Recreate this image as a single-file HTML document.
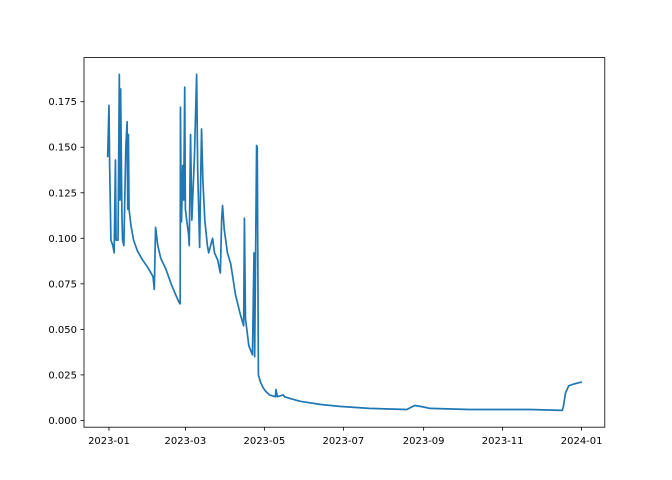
<!DOCTYPE html>
<html><head><meta charset="utf-8"><style>
body{margin:0;background:#fff}
svg{display:block;font-family:"DejaVu Sans","Liberation Sans",sans-serif}
</style></head><body>
<svg id="chart" width="672" height="480"></svg>
<script>
const days=[-1,0,0.5,1.5,3,4,5,5.5,7,8,8.5,9,10,10.5,11.5,13,14,14.5,15,15.5,17,19,22,26,30,34,35,36,37.7,40,44,48,51.5,54,55,55.2,55.5,56,57,57.7,58.5,59,60,61.5,62,63,64,66,67.7,68.5,70,71,71.5,72.5,74,76,77,78.5,80,81.5,84,86,87,87.7,89,91.5,94,97.7,101.5,104,104.6,105.4,108,110.8,112,112.5,114,114.5,115.4,117,119,121,124,128.5,129,130,134.6,135.5,140,147.7,163,178,201,230,236,242,248,278,324.6,350,351,352.5,355,359,364.6];
const values=[.145,.173,.141,.099,.096,.092,.143,.099,.099,.190,.121,.182,.113,.099,.096,.150,.164,.116,.157,.116,.107,.099,.093,.088,.084,.079,.072,.106,.096,.089,.083,.075,.069,.065,.064,.172,.140,.109,.140,.121,.183,.116,.110,.102,.096,.157,.110,.145,.190,.138,.095,.140,.160,.132,.110,.096,.092,.096,.100,.092,.088,.081,.110,.118,.105,.092,.086,.069,.058,.052,.111,.056,.041,.036,.092,.035,.151,.150,.025,.021,.018,.016,.014,.013,.017,.013,.014,.013,.012,.0105,.0088,.0077,.0066,.006,.0082,.0075,.0066,.006,.006,.0055,.008,.015,.019,.020,.021];
const xTickDays=[0,59,120,181,243,304,365];
const xTickLabels=["2023-01","2023-03","2023-05","2023-07","2023-09","2023-11","2024-01"];
const yTicks=[0,0.025,0.05,0.075,0.1,0.125,0.15,0.175];
const yTickLabels=["0.000","0.025","0.050","0.075","0.100","0.125","0.150","0.175"];

const L=84,R=604.8,T=57.6,B=427.2;
const ns="http://www.w3.org/2000/svg";
const svg=document.getElementById('chart');
const dmin=Math.min(...days),dmax=Math.max(...days),vmin=Math.min(...values),vmax=Math.max(...values);
const x0=dmin-0.05*(dmax-dmin),x1=dmax+0.05*(dmax-dmin);
const y0=vmin-0.05*(vmax-vmin),y1=vmax+0.05*(vmax-vmin);
const sx=d=>L+(d-x0)/(x1-x0)*(R-L);
const sy=v=>B-(v-y0)/(y1-y0)*(B-T);
function el(t,a){const e=document.createElementNS(ns,t);for(const k in a)e.setAttribute(k,a[k]);svg.appendChild(e);return e;}

let pts=days.map((d,i)=>sx(d).toFixed(2)+','+sy(values[i]).toFixed(2)).join(' ');
const line=el('polyline',{points:pts,fill:'none',stroke:'#1f77b4','stroke-width':1.7,'stroke-linejoin':'round','stroke-linecap':'square'});



xTickDays.forEach((d,i)=>{
  const x=sx(d);
  const t=el('line',{x1:x,x2:x,y1:B,y2:B+3.5,stroke:'#000','stroke-width':0.8});
  
  
  const tx=el('text',{x:x,y:B+17,'font-size':10,'text-anchor':'middle',fill:'#000'});
  tx.textContent=xTickLabels[i];
  
  
});
yTicks.forEach((v,i)=>{
  const y=sy(v);
  const t=el('line',{x1:L-3.5,x2:L,y1:y,y2:y,stroke:'#000','stroke-width':0.8});
  
  
  const tx=el('text',{x:L-7,y:y+3.5,'font-size':10,'text-anchor':'end',fill:'#000'});
  tx.textContent=yTickLabels[i];
  
  
});
const frame=el('rect',{x:L,y:T,width:R-L,height:B-T,fill:'none',stroke:'#000','stroke-width':0.8});


</script>
</body></html>
